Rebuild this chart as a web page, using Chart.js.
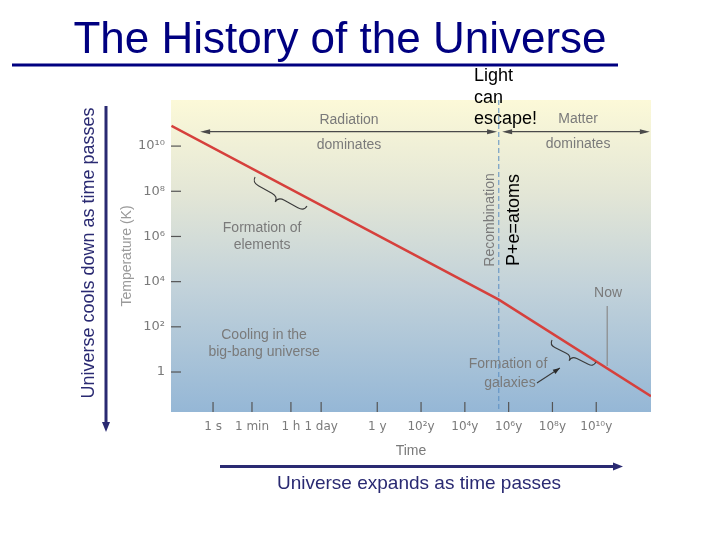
<!DOCTYPE html>
<html><head><meta charset="utf-8">
<script src="https://cdn.jsdelivr.net/npm/chart.js@4.4.1/dist/chart.umd.min.js"></script>
<style>html,body{margin:0;padding:0;background:#fff;}#wrap{position:relative;width:720px;height:540px;}</style>
</head><body><div id="wrap"><canvas id="c" width="720" height="540"></canvas></div>
<script>
// ---- data (times in seconds, temperatures in kelvin) ----
const lineTimesSec = [0.0126, 1.12e13, 1.0e20];
const lineTempsK   = [7.9e10, 1.6e3, 0.085];
const xTickSec     = [1, 60, 3600, 86400, 3.156e7, 3.156e9, 3.156e11, 3.156e13, 3.156e15, 3.156e17];
const xTickLabels  = ['1 s', '1 min', '1 h', '1 day', '1 y', '10²y', '10⁴y', '10⁶y', '10⁸y', '10¹⁰y'];
const yTickK       = [1e10, 1e8, 1e6, 1e4, 1e2, 1];
const yTickLabels  = ['10¹⁰', '10⁸', '10⁶', '10⁴', '10²', '1'];
const recombinationSec = 1.12e13;
const nowSec = 1.0e18;

const FONT = "'Liberation Sans', Arial, sans-serif";
const TICKFONT = "'DejaVu Sans', sans-serif";
const GRAY = '#7a7a7a';

function arrowHead(ctx, x1, y1, x2, y2, len, w, color) {
  const a = Math.atan2(y2 - y1, x2 - x1);
  ctx.save(); ctx.fillStyle = color; ctx.beginPath();
  ctx.moveTo(x2, y2);
  ctx.lineTo(x2 - len * Math.cos(a) + w * Math.sin(a), y2 - len * Math.sin(a) - w * Math.cos(a));
  ctx.lineTo(x2 - len * Math.cos(a) - w * Math.sin(a), y2 - len * Math.sin(a) + w * Math.cos(a));
  ctx.closePath(); ctx.fill(); ctx.restore();
}
function brace(ctx, ax, ay, bx, by, d) {
  const L = Math.hypot(bx - ax, by - ay), ux = (bx - ax) / L, uy = (by - ay) / L;
  const wx = -uy, wy = ux;
  const P = (u, w) => [ax + ux * u + wx * w, ay + uy * u + wy * w];
  const q = L * 0.12;
  ctx.beginPath();
  ctx.moveTo(...P(0, 0));
  ctx.quadraticCurveTo(...P(0, d / 2), ...P(q, d / 2));
  ctx.lineTo(...P(L / 2 - q, d / 2));
  ctx.quadraticCurveTo(...P(L / 2, d / 2), ...P(L / 2, d));
  ctx.quadraticCurveTo(...P(L / 2, d / 2), ...P(L / 2 + q, d / 2));
  ctx.lineTo(...P(L - q, d / 2));
  ctx.quadraticCurveTo(...P(L, d / 2), ...P(L, 0));
  ctx.stroke();
}

const decor = {
  id: 'decor',
  beforeDatasetsDraw(chart) {
    const {ctx, chartArea: a, scales: {x, y}} = chart;
    ctx.save();
    const g = ctx.createLinearGradient(0, a.top, 0, a.bottom);
    g.addColorStop(0, '#fcf9d8'); g.addColorStop(0.3, '#e3e6d6');
    g.addColorStop(0.6, '#c2d2da'); g.addColorStop(1, '#95b7d6');
    ctx.fillStyle = g; ctx.fillRect(a.left, a.top, a.right - a.left, a.bottom - a.top);
    // inward tick marks
    ctx.strokeStyle = '#555'; ctx.lineWidth = 1.2;
    y.ticks.forEach(t => { const py = y.getPixelForValue(t.value); ctx.beginPath(); ctx.moveTo(a.left, py); ctx.lineTo(a.left + 10, py); ctx.stroke(); });
    x.ticks.forEach(t => { const px = x.getPixelForValue(t.value); ctx.beginPath(); ctx.moveTo(px, a.bottom - 10); ctx.lineTo(px, a.bottom); ctx.stroke(); });
    // recombination dashed line
    const rx = x.getPixelForValue(recombinationSec);
    ctx.strokeStyle = '#5b8fc2'; ctx.lineWidth = 1; ctx.setLineDash([5, 3]);
    ctx.beginPath(); ctx.moveTo(rx, a.top); ctx.lineTo(rx, a.bottom); ctx.stroke();
    ctx.setLineDash([]);
    ctx.restore();
  },
  afterDatasetsDraw(chart) {
    const {ctx, scales: {x, y}} = chart;
    const P = (lx, ly) => [x.getPixelForValue(Math.pow(10, lx)), y.getPixelForValue(Math.pow(10, ly))];
    ctx.save();
    ctx.font = '14px ' + FONT; ctx.fillStyle = GRAY; ctx.textAlign = 'center'; ctx.textBaseline = 'middle';
    const txt = (s, lx, ly) => { const [px, py] = P(lx, ly); ctx.fillText(s, px, py); };
    txt('Radiation', 6.21, 11.15); txt('dominates', 6.21, 10.04);
    txt('Matter', 16.67, 11.19); txt('dominates', 16.67, 10.09);
    txt('Formation of', 2.24, 6.37); txt('elements', 2.24, 5.60);
    txt('Cooling in the', 2.33, 1.64); txt('big-bang universe', 2.33, 0.88);
    txt('Formation of', 13.47, 0.35); txt('galaxies', 13.56, -0.49);
    txt('Now', 18.04, 3.50);
    // recombination label
    { const [px, py] = P(12.65, 6.73); ctx.save(); ctx.translate(px, py); ctx.rotate(-Math.PI / 2); ctx.fillText('Recombination', 0, 0); ctx.restore(); }
    // dominance arrows
    ctx.strokeStyle = '#4a4a4a'; ctx.lineWidth = 1.2;
    const arrowBoth = (l1, l2, ly) => {
      const [x1, yy] = P(l1, ly), [x2] = P(l2, ly);
      ctx.beginPath(); ctx.moveTo(x1 + 4, yy); ctx.lineTo(x2 - 4, yy); ctx.stroke();
      arrowHead(ctx, x2, yy, x1, yy, 10, 2.5, '#4a4a4a');
      arrowHead(ctx, x1, yy, x2, yy, 10, 2.5, '#4a4a4a');
    };
    arrowBoth(-0.59, 12.97, 10.64);
    arrowBoth(13.2, 19.95, 10.64);
    // braces
    ctx.strokeStyle = '#3a3a3a'; ctx.lineWidth = 1.1;
    { const [ax, ay] = P(1.92, 8.63), [bx, by] = P(4.29, 7.35); brace(ctx, ax, ay, bx, by, 12); }
    { const [ax, ay] = P(15.48, 1.42), [bx, by] = P(17.49, 0.44); brace(ctx, ax, ay, bx, by, 11); }
    // galaxies arrow
    { const [ax, ay] = P(14.79, -0.49), [bx, by] = P(15.84, 0.18);
      ctx.beginPath(); ctx.moveTo(ax, ay); ctx.lineTo(bx, by); ctx.stroke();
      arrowHead(ctx, ax, ay, bx, by, 7, 2.5, '#2a2a2a'); }
    // Now line
    { const nx = x.getPixelForValue(nowSec); const [, y1] = P(0, 2.92), [, y2] = P(0, 0.27);
      ctx.strokeStyle = '#8a8a8a'; ctx.lineWidth = 1.2; ctx.beginPath(); ctx.moveTo(nx, y1); ctx.lineTo(nx, y2); ctx.stroke(); }
    ctx.restore();
  },
  afterDraw(chart) {
    const {ctx} = chart;
    ctx.save();
    // title
    ctx.fillStyle = '#000080'; ctx.font = '44px ' + FONT; ctx.textAlign = 'center'; ctx.textBaseline = 'alphabetic';
    ctx.fillText('The History of the Universe', 340, 53);
    ctx.fillRect(12, 63.5, 606, 3);
    // left label + arrow
    const navy = '#2a2a72';
    ctx.fillStyle = navy; ctx.font = '18px ' + FONT; ctx.textBaseline = 'middle';
    ctx.save(); ctx.translate(89, 253); ctx.rotate(-Math.PI / 2); ctx.fillText('Universe cools down as time passes', 0, 0); ctx.restore();
    ctx.strokeStyle = navy; ctx.lineWidth = 3;
    ctx.beginPath(); ctx.moveTo(106, 106); ctx.lineTo(106, 424); ctx.stroke();
    arrowHead(ctx, 106, 106, 106, 432, 10, 4, navy);
    // bottom arrow + label
    ctx.beginPath(); ctx.moveTo(220, 466.5); ctx.lineTo(614, 466.5); ctx.stroke();
    arrowHead(ctx, 220, 466.5, 623, 466.5, 10, 4, navy);
    ctx.font = '19px ' + FONT; ctx.textBaseline = 'alphabetic';
    ctx.fillText('Universe expands as time passes', 419, 489);
    // Light can escape! / P+e=atoms
    ctx.fillStyle = '#000'; ctx.font = '18px ' + FONT; ctx.textAlign = 'left';
    ctx.fillText('Light', 474, 81); ctx.fillText('can', 474, 102.5); ctx.fillText('escape!', 474, 124);
    ctx.textAlign = 'center'; ctx.textBaseline = 'middle';
    ctx.save(); ctx.translate(514, 220); ctx.rotate(-Math.PI / 2); ctx.fillText('P+e=atoms', 0, 0); ctx.restore();
    ctx.restore();
  }
};

Chart.defaults.font.family = FONT;
new Chart(document.getElementById('c'), {
  type: 'line',
  data: {
    datasets: [{
      data: lineTimesSec.map((t, i) => ({x: t, y: lineTempsK[i]})),
      borderColor: '#d6403c', borderWidth: 2.5, pointRadius: 0, tension: 0, fill: false
    }]
  },
  options: {
    responsive: false, animation: false, devicePixelRatio: 1,
    layout: {padding: {left: 111, right: 69, top: 100, bottom: 78}},
    plugins: {legend: {display: false}, tooltip: {enabled: false}},
    scales: {
      x: {
        type: 'logarithmic', min: Math.pow(10, -1.92), max: 1e20,
        afterBuildTicks: s => { s.ticks = xTickSec.map(v => ({value: v})); },
        afterFit: s => { s.height = 50; },
        ticks: {autoSkip: false, maxRotation: 0, padding: 8, color: GRAY, font: {size: 12, family: TICKFONT},
          callback: (v, i) => xTickLabels[i]},
        grid: {display: false, drawTicks: false}, border: {display: false},
        title: {display: true, text: 'Time', color: GRAY, font: {size: 14}, padding: {top: 0, bottom: 2}}
      },
      y: {
        type: 'logarithmic', min: Math.pow(10, -1.77), max: Math.pow(10, 12.04),
        afterBuildTicks: s => { s.ticks = yTickK.map(v => ({value: v})); },
        afterFit: s => { s.width = 60; },
        ticks: {autoSkip: false, padding: 6, color: GRAY, font: {size: 13, family: TICKFONT},
          callback: (v, i) => yTickLabels[i]},
        grid: {display: false, drawTicks: false}, border: {display: false},
        title: {display: true, text: 'Temperature (K)', color: '#9a9a9a', font: {size: 14}, padding: {top: 8, bottom: 0}}
      }
    }
  },
  plugins: [decor]
});
</script></body></html>
